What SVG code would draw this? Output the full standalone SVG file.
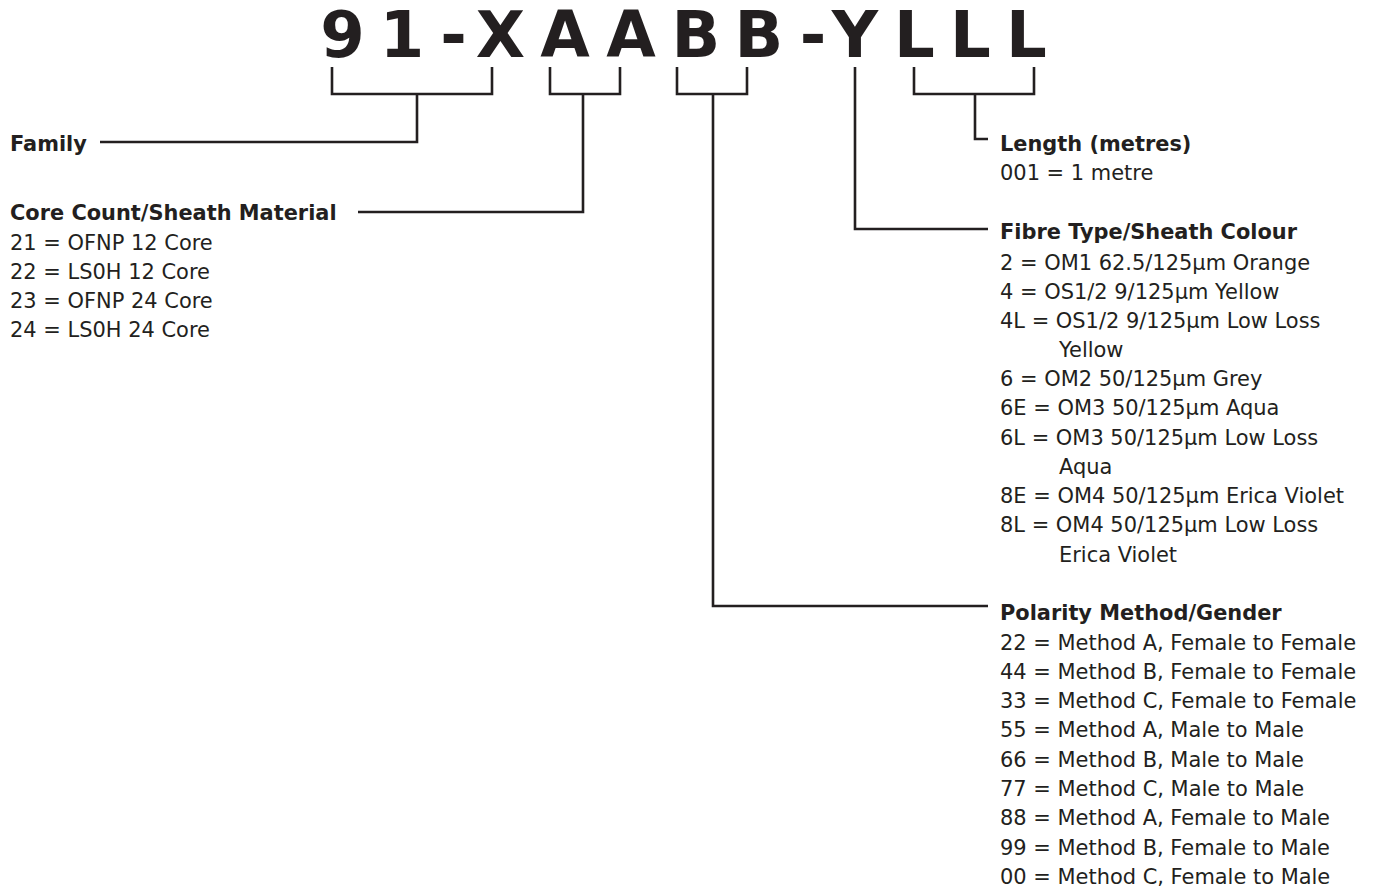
<svg xmlns="http://www.w3.org/2000/svg" width="1373" height="890" viewBox="0 0 1373 890">
<style>
text{font-family:"DejaVu Sans","Noto Sans",sans-serif;fill:#231f20}
.t{font-size:64px;font-weight:bold}
.h{font-size:20.9px;font-weight:bold}
.b{font-size:20.95px}
.c{fill:none;stroke:#231f20;stroke-width:2.6}
</style>
<rect width="1373" height="890" fill="#fff"/>
<g id="code">
<text class="t" text-anchor="middle" y="57" x="342.5 402 453.5 500.5 565 631 696 759 813 855 914.5 970.5 1026.5">91-XAABB-YLLL</text>
</g>
<g id="connectors">
<path class="c" d="M332 67V94H492V67M417 94V142H100"/>
<path class="c" d="M550 67V94H620V67M583 94V212H358"/>
<path class="c" d="M677 67V94H747V67M713 94V606H988"/>
<path class="c" d="M855 67V229H988"/>
<path class="c" d="M914 67V94H1034V67M975 94V139H988"/>
</g>
<g id="family">
<text class="h" x="10" y="150.5">Family</text>
</g>
<g id="core">
<text class="h" x="10" y="219.5">Core Count/Sheath Material</text>
<text class="b" x="10" y="249.5">21 = OFNP 12 Core</text>
<text class="b" x="10" y="278.5">22 = LS0H 12 Core</text>
<text class="b" x="10" y="307.5">23 = OFNP 24 Core</text>
<text class="b" x="10" y="337">24 = LS0H 24 Core</text>
</g>
<g id="length">
<text class="h" x="1000" y="150.5">Length (metres)</text>
<text class="b" x="1000" y="179.5">001 = 1 metre</text>
</g>
<g id="fibre">
<text class="h" x="1000" y="238.5">Fibre Type/Sheath Colour</text>
<text class="b" x="1000" y="269.5">2 = OM1 62.5/125µm Orange</text>
<text class="b" x="1000" y="298.5">4 = OS1/2 9/125µm Yellow</text>
<text class="b" x="1000" y="327.5">4L = OS1/2 9/125µm Low Loss</text>
<text class="b" x="1059" y="357">Yellow</text>
<text class="b" x="1000" y="386">6 = OM2 50/125µm Grey</text>
<text class="b" x="1000" y="415">6E = OM3 50/125µm Aqua</text>
<text class="b" x="1000" y="444.5">6L = OM3 50/125µm Low Loss</text>
<text class="b" x="1059" y="473.5">Aqua</text>
<text class="b" x="1000" y="503">8E = OM4 50/125µm Erica Violet</text>
<text class="b" x="1000" y="532">8L = OM4 50/125µm Low Loss</text>
<text class="b" x="1059" y="561.5">Erica Violet</text>
</g>
<g id="polarity">
<text class="h" x="1000" y="619.5">Polarity Method/Gender</text>
<text class="b" x="1000" y="649.5">22 = Method A, Female to Female</text>
<text class="b" x="1000" y="678.5">44 = Method B, Female to Female</text>
<text class="b" x="1000" y="708">33 = Method C, Female to Female</text>
<text class="b" x="1000" y="737">55 = Method A, Male to Male</text>
<text class="b" x="1000" y="766.5">66 = Method B, Male to Male</text>
<text class="b" x="1000" y="796">77 = Method C, Male to Male</text>
<text class="b" x="1000" y="825">88 = Method A, Female to Male</text>
<text class="b" x="1000" y="854.5">99 = Method B, Female to Male</text>
<text class="b" x="1000" y="884">00 = Method C, Female to Male</text>
</g>
</svg>
